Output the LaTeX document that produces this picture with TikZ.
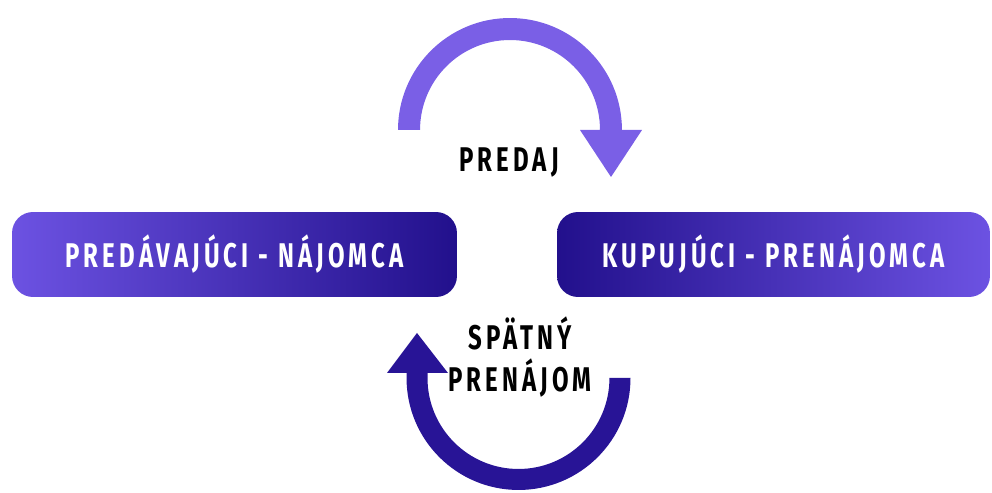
\documentclass[tikz,border=0pt]{standalone}
\usepackage{fontspec}
\newfontfamily\condfont{Fira Sans}[FakeStretch=0.7,LetterSpace=12,UprightFont=* Bold]
\usetikzlibrary{positioning}
\definecolor{lightviolet}{RGB}{108,82,226}
\definecolor{midviolet}{RGB}{62,36,174}
\definecolor{darkindigo}{RGB}{34,16,140}
\definecolor{arrowtop}{RGB}{122,95,230}
\definecolor{arrowbot}{RGB}{40,20,150}
\tikzset{
  partybox/.style={rounded corners=0.42cm, minimum height=1.7cm, inner sep=0pt,
    font=\condfont\fontsize{19.5}{21}\selectfont, text=white},
  flowlabel/.style={font=\condfont\fontsize{19.5}{21}\selectfont, text=black, align=center}
}

\begin{document}
\begin{tikzpicture}[x=0.02cm, y=0.02cm]
    \useasboundingbox (0,0) rectangle (992,493);

    % LEFT: seller - lessee
    \node[partybox, minimum width=8.9cm, left color=lightviolet, middle color=midviolet,
      right color=darkindigo] (seller) at (234.5,238.5) {PREDÁVAJÚCI - NÁJOMCA};

    % RIGHT: buyer - lessor
    \node[partybox, minimum width=8.66cm, left color=darkindigo, middle color=midviolet,
      right color=lightviolet] (buyer) at (773.5,238.5) {KUPUJÚCI - PRENÁJOMCA};

    % TOP: sale arrow (left to right)
    \fill[arrowtop] (398,363) arc[start angle=180, end angle=0, radius=2.24cm]
      -- (642,363) -- (611,316) -- (580,363) -- (600,363)
      arc[start angle=0, end angle=180, radius=1.8cm] -- cycle;
    \node[flowlabel] (sale) at (509,330.5) {PREDAJ};

    % BOTTOM: leaseback arrow (right to left)
    \fill[arrowbot] (630.5,115) arc[start angle=0, end angle=-180, radius=2.24cm]
      -- (406.5,120) -- (387,120) -- (417,160) -- (448,120) -- (427.5,120) -- (427.5,115)
      arc[start angle=180, end angle=360, radius=1.82cm] -- cycle;
    \node[flowlabel] (leaseback) at (520,136) {SPÄTNÝ\\[3pt]PRENÁJOM};
\end{tikzpicture}
\end{document}
